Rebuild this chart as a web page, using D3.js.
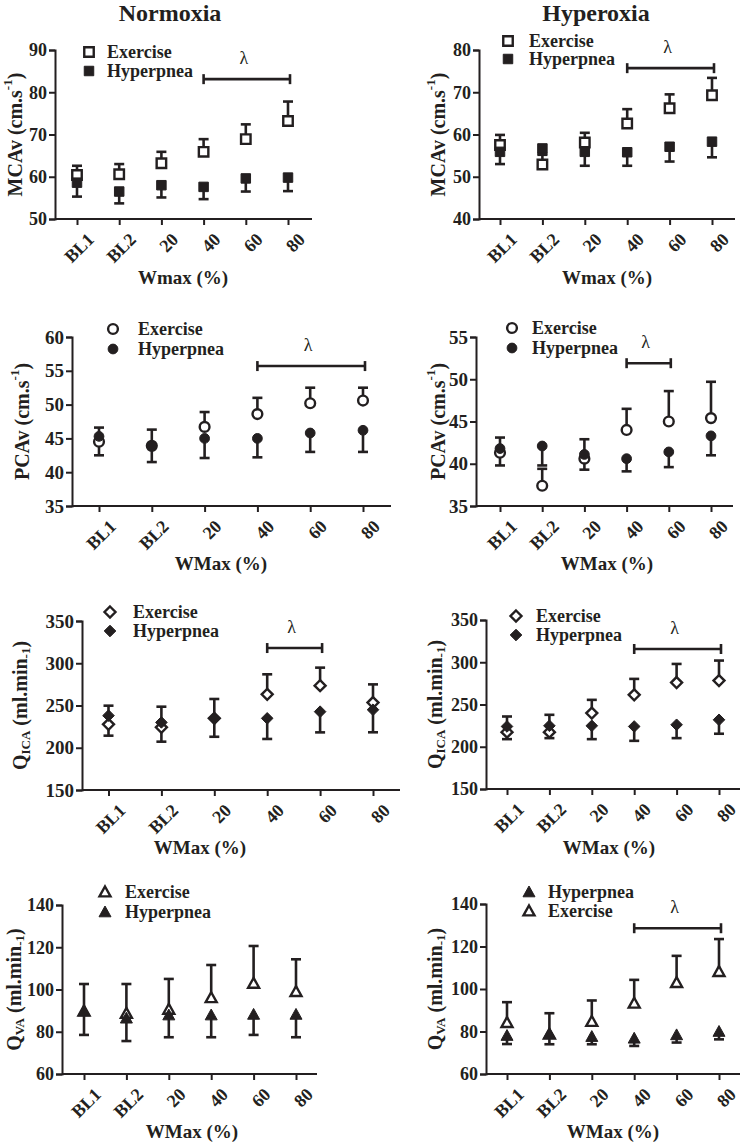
<!DOCTYPE html>
<html><head><meta charset="utf-8">
<script src="https://cdn.jsdelivr.net/npm/d3@7"></script>
<style>
html,body{margin:0;padding:0;background:#fff;}
svg{display:block;}
svg text{font-family:"Times New Roman","Liberation Serif",Tinos,"DejaVu Serif",serif !important;fill:#231f20;}
</style></head>
<body>
<svg id="chart" width="741" height="1142"></svg>
<script>
// ---------------- DATA ----------------
const categories = ["BL1", "BL2", "20", "40", "60", "80"];
const columnTitles = ["Normoxia", "Hyperoxia"];

// MCAv – Normoxia
const mcaNormEx   = [60.4, 60.6, 63.2, 65.9, 68.9, 73.2];
const mcaNormExHi = [62.6, 63.0, 65.9, 68.9, 72.4, 77.8];
const mcaNormHy   = [58.6, 56.5, 58.0, 57.6, 59.6, 59.8];
const mcaNormHyLo = [55.3, 53.7, 55.1, 54.7, 56.5, 56.6];
const mcaNormTicks = [50, 60, 70, 80, 90];

// MCAv – Hyperoxia
const mcaHypEx   = [57.5, 52.9, 58.1, 62.6, 66.2, 69.3];
const mcaHypExHi = [59.9, 55.2, 60.4, 66.0, 69.5, 73.4];
const mcaHypHy   = [55.9, 56.7, 55.9, 55.8, 57.1, 58.3];
const mcaHypHyLo = [53.0, 55.4, 52.6, 52.6, 53.6, 54.6];
const mcaHypTicks = [40, 50, 60, 70, 80];

// PCAv – Normoxia
const pcaNormEx   = [44.5, 43.9, 46.7, 48.6, 50.2, 50.6];
const pcaNormExHi = [46.6, 46.3, 48.9, 51.0, 52.5, 52.5];
const pcaNormHy   = [45.3, 43.9, 45.0, 45.0, 45.8, 46.2];
const pcaNormHyLo = [42.5, 41.5, 42.1, 42.2, 43.0, 43.0];
const pcaNormTicks = [35, 40, 45, 50, 55, 60];

// PCAv – Hyperoxia
const pcaHypEx   = [41.3, 37.4, 40.6, 44.0, 45.0, 45.4];
const pcaHypExHi = [43.1, 39.4, 42.9, 46.5, 48.6, 49.7];
const pcaHypHy   = [41.8, 42.1, 41.1, 40.6, 41.4, 43.3];
const pcaHypHyLo = [39.8, 39.8, 39.3, 39.1, 39.6, 41.0];
const pcaHypTicks = [35, 40, 45, 50, 55];

// QICA – Normoxia
const icaNormEx   = [227.7, 224.2, 234.8, 263.2, 273.5, 253.5];
const icaNormExHi = [249.8, 248.6, 257.7, 286.9, 294.8, 275.0];
const icaNormHy   = [238.0, 230.0, 234.8, 234.8, 242.7, 245.0];
const icaNormHyLo = [214.3, 207.2, 213.0, 210.4, 218.2, 218.3];
const icaNormTicks = [150, 200, 250, 300, 350];

// QICA – Hyperoxia
const icaHypEx   = [217.3, 217.3, 239.8, 261.4, 276.0, 278.3];
const icaHypExHi = [235.8, 237.8, 255.5, 280.3, 298.0, 302.0];
const icaHypHy   = [224.0, 224.8, 224.8, 224.0, 226.0, 231.9];
const icaHypHyLo = [209.0, 210.2, 209.0, 207.0, 210.2, 215.4];
const icaHypTicks = [150, 200, 250, 300, 350];

// QVA – Normoxia
const vaNormEx   = [89.8, 88.7, 90.6, 96.1, 102.9, 99.0];
const vaNormExHi = [102.6, 102.6, 105.0, 111.6, 120.6, 114.3];
const vaNormHy   = [89.8, 86.4, 87.9, 87.9, 88.2, 88.2];
const vaNormHyLo = [78.5, 75.6, 77.4, 77.4, 78.5, 77.4];
const vaNormTicks = [60, 80, 100, 120, 140];

// QVA – Hyperoxia
const vaHypEx   = [84.2, 78.7, 84.7, 93.3, 103.0, 108.2];
const vaHypExHi = [93.8, 88.6, 94.6, 104.3, 115.6, 123.5];
const vaHypHy   = [78.1, 78.9, 77.6, 76.8, 78.4, 80.0];
const vaHypHyLo = [74.1, 74.0, 74.0, 73.2, 74.8, 76.3];
const vaHypTicks = [60, 80, 100, 120, 140];

// significance (λ) ranges and level (data units)
const sigMcaNorm = ["40", "80"], sigMcaNormLevel = 83.1;
const sigMcaHyp  = ["40", "80"], sigMcaHypLevel  = 75.7;
const sigPcaNorm = ["40", "80"], sigPcaNormLevel = 55.7;
const sigPcaHyp  = ["40", "60"], sigPcaHypLevel  = 51.9;
const sigIcaNorm = ["40", "60"], sigIcaNormLevel = 318;
const sigIcaHyp  = ["40", "80"], sigIcaHypLevel  = 315.7;
const sigVaHyp   = ["40", "80"], sigVaHypLevel   = 128.6;

const legendExercise = "Exercise";
const legendHyperpnea = "Hyperpnea";

// ---------------- LAYOUT ----------------
const panels = [
  {ex: mcaNormEx, exHi: mcaNormExHi, hy: mcaNormHy, hyLo: mcaNormHyLo, ticks: mcaNormTicks,
   sig: sigMcaNorm, sigLevel: sigMcaNormLevel, shape: "square", ylab: "mca", xlab: "Wmax (%)",
   ax: 55, top: 50, bot: 219, c0: 77, c1: 288, axEnd: 312, tickFs: 18,
   leg: {mx: 89, y1: 52, y2: 71, tx: 107, hyFirst: false}, ylabX: 15, xlabX: 183, xlabY: 277},
  {ex: mcaHypEx, exHi: mcaHypExHi, hy: mcaHypHy, hyLo: mcaHypHyLo, ticks: mcaHypTicks,
   sig: sigMcaHyp, sigLevel: sigMcaHypLevel, shape: "square", ylab: "mca", xlab: "Wmax (%)",
   ax: 479, top: 50, bot: 219, c0: 500, c1: 712, axEnd: 735, tickFs: 18,
   leg: {mx: 508, y1: 41, y2: 59, tx: 529, hyFirst: false}, ylabX: 438, xlabX: 607, xlabY: 277},
  {ex: pcaNormEx, exHi: pcaNormExHi, hy: pcaNormHy, hyLo: pcaNormHyLo, ticks: pcaNormTicks,
   sig: sigPcaNorm, sigLevel: sigPcaNormLevel, shape: "circle", ylab: "pca", xlab: "WMax (%)",
   ax: 72, top: 337, bot: 506, c0: 99, c1: 363, axEnd: 391, tickFs: 19,
   leg: {mx: 113, y1: 329, y2: 349, tx: 138, hyFirst: false}, ylabX: 22, xlabX: 221, xlabY: 563},
  {ex: pcaHypEx, exHi: pcaHypExHi, hy: pcaHypHy, hyLo: pcaHypHyLo, ticks: pcaHypTicks,
   sig: sigPcaHyp, sigLevel: sigPcaHypLevel, shape: "circle", ylab: "pca", xlab: "WMax (%)",
   ax: 476, top: 337, bot: 506, c0: 500, c1: 711, axEnd: 733, tickFs: 19,
   leg: {mx: 512, y1: 328, y2: 348, tx: 532, hyFirst: false}, ylabX: 438, xlabX: 607, xlabY: 563},
  {ex: icaNormEx, exHi: icaNormExHi, hy: icaNormHy, hyLo: icaNormHyLo, ticks: icaNormTicks,
   sig: sigIcaNorm, sigLevel: sigIcaNormLevel, shape: "diamond", ylab: "ica", xlab: "WMax (%)",
   ax: 82, top: 621, bot: 790, c0: 108.5, c1: 373, axEnd: 400, tickFs: 19,
   leg: {mx: 110, y1: 612, y2: 631, tx: 133, hyFirst: false}, ylabX: 20, xlabX: 200, xlabY: 847},
  {ex: icaHypEx, exHi: icaHypExHi, hy: icaHypHy, hyLo: icaHypHyLo, ticks: icaHypTicks,
   sig: sigIcaHyp, sigLevel: sigIcaHypLevel, shape: "diamond", ylab: "ica", xlab: "WMax (%)",
   ax: 486, top: 620, bot: 789, c0: 507, c1: 719, axEnd: 740, tickFs: 18,
   leg: {mx: 516, y1: 616, y2: 635, tx: 536, hyFirst: false}, ylabX: 435, xlabX: 609, xlabY: 847},
  {ex: vaNormEx, exHi: vaNormExHi, hy: vaNormHy, hyLo: vaNormHyLo, ticks: vaNormTicks,
   sig: null, sigLevel: null, shape: "triangle", ylab: "va", xlab: "WMax (%)",
   ax: 62, top: 905, bot: 1074, c0: 84, c1: 296, axEnd: 317, tickFs: 18,
   leg: {mx: 105, y1: 892, y2: 912, tx: 125, hyFirst: false}, ylabX: 14, xlabX: 192, xlabY: 1131},
  {ex: vaHypEx, exHi: vaHypExHi, hy: vaHypHy, hyLo: vaHypHyLo, ticks: vaHypTicks,
   sig: sigVaHyp, sigLevel: sigVaHypLevel, shape: "triangle", ylab: "va", xlab: "WMax (%)",
   ax: 486, top: 904, bot: 1074, c0: 507, c1: 719, axEnd: 740, tickFs: 18,
   leg: {mx: 529, y1: 892, y2: 911, tx: 548, hyFirst: true}, ylabX: 435, xlabX: 613, xlabY: 1131}
];

const INK = "#231f20";
const FONT = "'Times New Roman','Liberation Serif',Tinos,'DejaVu Serif',serif";
const svg = d3.select("#chart");

// column titles
svg.append("text").attr("x", 170).attr("y", 21).attr("text-anchor", "middle")
  .attr("font-size", 24).attr("font-weight", "bold").attr("font-family", FONT).text(columnTitles[0]);
svg.append("text").attr("x", 596).attr("y", 21).attr("text-anchor", "middle")
  .attr("font-size", 24).attr("font-weight", "bold").attr("font-family", FONT).text(columnTitles[1]);

function symbolPath(shape, open) {
  if (shape === "diamond") { const r = open ? 5.5 : 5.8; return `M0,${-r}L${r},0L0,${r}L${-r},0Z`; }
  if (shape === "triangle") { const h = open ? 5.5 : 6; return `M0,${-h}L${h * 1.0},${h * 0.8}L${-h * 1.0},${h * 0.8}Z`; }
  const map = {square: d3.symbolSquare, circle: d3.symbolCircle};
  const size = {square: 90, circle: 75}[shape];
  return d3.symbol().type(map[shape]).size(size)();
}

function drawMarker(g, shape, x, y, open) {
  g.append("path").attr("d", symbolPath(shape, open))
    .attr("transform", `translate(${x},${y})`)
    .attr("fill", open ? "#fff" : INK)
    .attr("stroke", INK).attr("stroke-width", open ? 2.4 : 1);
}

function yLabel(g, p) {
  const t = g.append("text")
    .attr("transform", `translate(${p.ylabX},${(p.top + p.bot) / 2}) rotate(-90)`)
    .attr("text-anchor", "middle").attr("dominant-baseline", "central")
    .attr("font-size", 20).attr("font-weight", "bold").attr("font-family", FONT);
  if (p.ylab === "mca" || p.ylab === "pca") {
    t.append("tspan").text(p.ylab === "mca" ? "MCAv (cm.s" : "PCAv (cm.s");
    t.append("tspan").attr("font-size", 13).attr("dy", -8).text("-1");
    t.append("tspan").attr("dy", 8).text(")");
  } else {
    t.append("tspan").text("Q");
    t.append("tspan").attr("font-size", 13).attr("dy", 5).text(p.ylab === "ica" ? "ICA" : "VA");
    t.append("tspan").attr("dy", -5).text(" (ml.min");
    t.append("tspan").attr("font-size", 13).attr("dy", 5).text("-1");
    t.append("tspan").attr("dy", -5).text(")");
  }
}

panels.forEach(p => {
  const g = svg.append("g").attr("font-family", FONT);
  const x = d3.scalePoint().domain(categories).range([p.c0, p.c1]);
  const y = d3.scaleLinear().domain([p.ticks[0], p.ticks[p.ticks.length - 1]]).range([p.bot, p.top]);

  // y axis
  const ya = g.append("g").attr("transform", `translate(${p.ax},0)`)
    .call(d3.axisLeft(y).tickValues(p.ticks).tickSize(6).tickPadding(2).tickFormat(d3.format("d")));
  ya.attr("font-family", FONT);
  ya.select(".domain").attr("stroke", INK).attr("stroke-width", 2);
  ya.selectAll(".tick line").attr("stroke", INK).attr("stroke-width", 2);
  ya.selectAll(".tick text").attr("font-size", p.tickFs).attr("font-weight", "bold")
    .attr("font-family", FONT).attr("fill", INK);

  // x axis
  const xa = g.append("g").attr("transform", `translate(0,${p.bot})`)
    .call(d3.axisBottom(x).tickSize(6).tickPadding(4));
  xa.attr("font-family", FONT);
  xa.select(".domain").attr("d", `M${p.ax},0H${p.axEnd}`).attr("stroke", INK).attr("stroke-width", 2);
  xa.selectAll(".tick line").attr("stroke", INK).attr("stroke-width", 2);
  xa.selectAll(".tick text").attr("font-size", 18).attr("font-weight", "bold")
    .attr("font-family", FONT).attr("fill", INK)
    .attr("text-anchor", "end").attr("dy", "0.35em")
    .attr("transform", "translate(6,10) rotate(-45)");

  // labels
  yLabel(g, p);
  g.append("text").attr("x", p.xlabX).attr("y", p.xlabY).attr("text-anchor", "middle")
    .attr("dominant-baseline", "central").attr("font-size", 19).attr("font-weight", "bold").text(p.xlab);

  // error bars
  const cap = 5;
  categories.forEach((c, i) => {
    const cx = x(c);
    g.append("line").attr("x1", cx).attr("x2", cx).attr("y1", y(p.ex[i])).attr("y2", y(p.exHi[i]))
      .attr("stroke", INK).attr("stroke-width", 2.6);
    g.append("line").attr("x1", cx - cap).attr("x2", cx + cap).attr("y1", y(p.exHi[i])).attr("y2", y(p.exHi[i]))
      .attr("stroke", INK).attr("stroke-width", 2.6);
    g.append("line").attr("x1", cx).attr("x2", cx).attr("y1", y(p.hy[i])).attr("y2", y(p.hyLo[i]))
      .attr("stroke", INK).attr("stroke-width", 2.6);
    g.append("line").attr("x1", cx - cap).attr("x2", cx + cap).attr("y1", y(p.hyLo[i])).attr("y2", y(p.hyLo[i]))
      .attr("stroke", INK).attr("stroke-width", 2.6);
  });
  categories.forEach((c, i) => drawMarker(g, p.shape, x(c), y(p.ex[i]), true));
  categories.forEach((c, i) => drawMarker(g, p.shape, x(c), y(p.hy[i]), false));

  // significance bar
  if (p.sig) {
    const x1 = x(p.sig[0]), x2 = x(p.sig[1]) + 2, sy = y(p.sigLevel);
    g.append("line").attr("x1", x1).attr("x2", x2).attr("y1", sy).attr("y2", sy).attr("stroke", INK).attr("stroke-width", 2.6);
    g.append("line").attr("x1", x1).attr("x2", x1).attr("y1", sy - 5).attr("y2", sy + 5).attr("stroke", INK).attr("stroke-width", 2.6);
    g.append("line").attr("x1", x2).attr("x2", x2).attr("y1", sy - 5).attr("y2", sy + 5).attr("stroke", INK).attr("stroke-width", 2.6);
    g.append("text").attr("x", (x1 + x2) / 2 - 3).attr("y", sy - 21).attr("text-anchor", "middle")
      .attr("dominant-baseline", "central").attr("font-size", 18).text("λ");
  }

  // legend
  const L = p.leg;
  const items = L.hyFirst ? [[legendHyperpnea, false], [legendExercise, true]] : [[legendExercise, true], [legendHyperpnea, false]];
  items.forEach((it, k) => {
    const ly = k === 0 ? L.y1 : L.y2;
    drawMarker(g, p.shape, L.mx, ly, it[1]);
    g.append("text").attr("x", L.tx).attr("y", ly).attr("dominant-baseline", "central")
      .attr("font-size", 18).attr("font-weight", "bold").text(it[0]);
  });
});
</script>
</body></html>
